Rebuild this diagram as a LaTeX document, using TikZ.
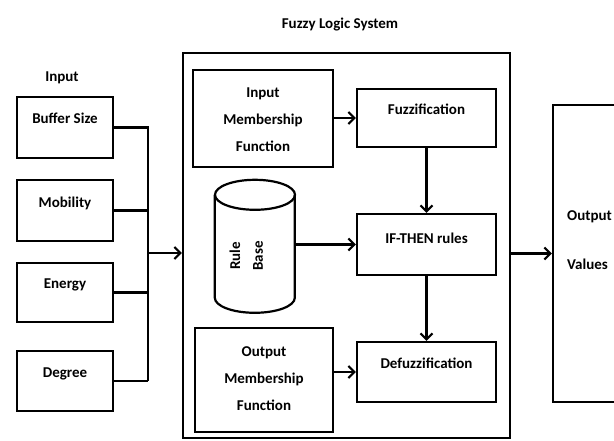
\documentclass[tikz,border=0pt]{standalone}
\usepackage{fontspec}
\setmainfont{Carlito}
\usetikzlibrary{arrows.meta}
\begin{document}
\begin{tikzpicture}[x=1pt,y=-1pt,
  every node/.style={font=\fontsize{15}{27}\selectfont\bfseries},
  box/.style={draw,line width=2.2pt,minimum width=#1,inner sep=0pt},
  conn/.style={line width=2.2pt},
  arr/.style={line width=2.2pt,-{Straight Barb[length=6pt,width=12pt]}},
  lbl/.style={anchor=center,inner sep=0pt}
]
\useasboundingbox (0,0) rectangle (614,441);
\clip (0,0) rectangle (614,441);

% titles
\node[lbl] (title) at (340,25) {Fuzzy Logic System};
\node[lbl] (inlbl) at (62,78) {Input};

% input boxes
\node[box=96pt,minimum height=61pt] (buf) at (65,127.5) {};
\node[lbl] (buft) at (65,118) {Buffer Size};
\node[box=96pt,minimum height=61pt] (mob) at (65,210.5) {};
\node[lbl] (mobt) at (65,203) {Mobility};
\node[box=96pt,minimum height=59pt] (ene) at (65,292.5) {};
\node[lbl] (enet) at (65,285) {Energy};
\node[box=96pt,minimum height=60pt] (deg) at (65,381) {};
\node[lbl] (degt) at (65,374) {Degree};

% bus
\coordinate (bustop) at (148,127.5);
\coordinate (busbot) at (148,381);
\coordinate (busmid) at (148,253);
\draw[conn] (buf.east) -- (bustop) -- (busbot);
\draw[conn] (mob.east) -- (mob.east -| bustop);
\draw[conn] (ene.east) -- (ene.east -| bustop);
\draw[conn] (deg.east) -- (busbot);

% main box
\node[box=327pt,minimum height=385pt] (main) at (346.5,245.5) {};
\draw[arr] (busmid) -- (busmid -| main.west);

% input membership function
\node[box=140pt,minimum height=97pt] (imf) at (263,118.5) {};
\node[lbl,align=center] (imft) at (263,120) {Input\\Membership\\Function};

% fuzzification
\node[box=139pt,minimum height=58pt] (fuz) at (426.5,118) {};
\node[lbl] (fuzt) at (426.5,109) {Fuzzification};
\draw[arr] (imf.east |- fuz.west) -- (fuz.west);

% rule base cylinder
\node[minimum width=80pt,minimum height=133pt,inner sep=0pt] (rb) at (255,246.5) {};
\draw[line width=2.2pt] (rb.north) ++(0,15) ellipse[x radius=40pt,y radius=15pt];
\draw[line width=2.2pt] (rb.north west) ++(0,15) -- ++(0,103)
   arc[start angle=180,end angle=360,x radius=40pt,y radius=15pt] -- ++(0,-103);
\node[lbl,rotate=90] (rule) at (235,256) {Rule};
\node[lbl,rotate=90] (base) at (258,256) {Base};

% IF-THEN
\node[box=139pt,minimum height=61pt] (ift) at (426.5,244.5) {};
\node[lbl] (iftt) at (426.5,238) {IF-THEN rules};
\draw[arr] (rb.east |- ift.west) -- (ift.west);

% defuzz
\node[box=139pt,minimum height=60pt] (dfz) at (426.5,372) {};
\node[lbl] (dfzt) at (426.5,363) {Defuzzification};

% output membership function
\node[box=138pt,minimum height=104pt] (omf) at (264,380) {};
\node[lbl,align=center] (omft) at (264,379) {Output\\Membership\\Function};

\draw[arr] (fuz.south) -- (ift.north);
\draw[arr] (ift.south) -- (dfz.north);
\draw[arr] (omf.east |- dfz.west) -- (dfz.west);

% output box
\node[box=80pt,minimum height=297pt] (out) at (593,253.5) {};
\node[lbl,anchor=west] (outt) at (567,217) {Output};
\node[lbl,anchor=west] (valt) at (567,264) {Values};
\draw[arr] (main.east |- out.west) -- (out.west);
\end{tikzpicture}
\end{document}
